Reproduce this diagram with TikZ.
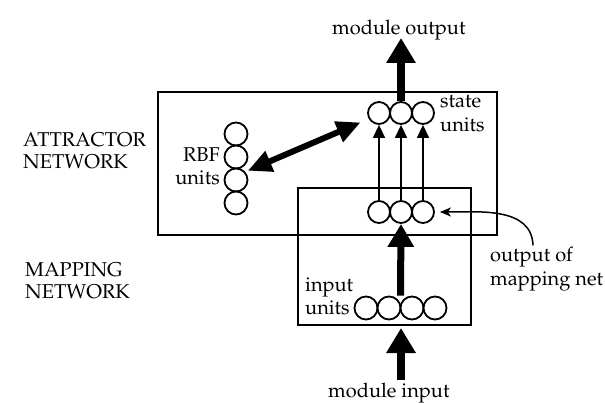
\documentclass[tikz,border=0pt]{standalone}
\usepackage[T1]{fontenc}
\renewcommand{\rmdefault}{ppl}
\usetikzlibrary{arrows.meta,calc}
\begin{document}
\begin{tikzpicture}[x=1pt,y=-1pt,
  unit/.style={circle,draw,fill=white,line width=1.8pt,minimum size=22pt,inner sep=0pt},
  lbl/.style={font=\fontsize{20}{24}\selectfont,inner sep=0pt},
  netbox/.style={draw,line width=1.8pt,inner sep=0pt,anchor=north west},
  bigarrow/.style={line width=7.5pt,-{Triangle[length=25pt,width=28pt]}},
  midarrow/.style={line width=7pt,-{Triangle[length=23pt,width=25pt]}},
  dblarrow/.style={line width=6pt,{Triangle[length=24pt,width=21pt]}-{Triangle[length=24pt,width=21pt]}},
  thinarrow/.style={line width=1.5pt,-{Triangle[length=13pt,width=12pt]}},
  curvearrow/.style={line width=1.5pt,-{Stealth[length=11pt,width=9pt,inset=3pt]}}]
\fill[white] (0,0) rectangle (605,403);
\useasboundingbox (0,0) rectangle (605,403);

% boxes
\node[netbox,minimum width=339pt,minimum height=143pt] (attr) at (157,91) {};
\node[netbox,minimum width=173pt,minimum height=137pt] (map) at (297,187) {};

% state units
\node[unit] (s1) at (379,113) {};
\node[unit] (s2) at (401,113) {};
\node[unit] (s3) at (423,113) {};
% output of mapping net
\node[unit] (m1) at (379,212) {};
\node[unit] (m2) at (401,212) {};
\node[unit] (m3) at (423,212) {};
% input units
\node[unit,minimum size=23pt] (i1) at (366,308) {};
\node[unit,minimum size=23pt] (i2) at (389,308) {};
\node[unit,minimum size=23pt] (i3) at (412,308) {};
\node[unit,minimum size=23pt] (i4) at (435,308) {};
% RBF units
\node[unit,minimum size=23pt] (r1) at (236,134) {};
\node[unit,minimum size=23pt] (r2) at (236,157) {};
\node[unit,minimum size=23pt] (r3) at (236,180) {};
\node[unit,minimum size=23pt] (r4) at (236,203) {};

% labels
\node[lbl,anchor=base west] (outlbl) at (332,35) {module output};
\node[lbl,anchor=base west] (inlbl) at (328,397) {module input};
\node[lbl,anchor=base west] (st1) at (440,108) {state};
\node[lbl,anchor=base west] (st2) at (440,132) {units};
\node[lbl,anchor=base east] (rb1) at (220,162) {RBF};
\node[lbl,anchor=base east] (rb2) at (220,185) {units};
\node[lbl,anchor=base west] (at1) at (23,147) {ATTRACTOR};
\node[lbl,anchor=base west] (at2) at (23,169) {NETWORK};
\node[lbl,anchor=base west] (mp1) at (25,277) {MAPPING};
\node[lbl,anchor=base west] (mp2) at (25,299) {NETWORK};
\node[lbl,anchor=base west] (in1) at (305,292) {input};
\node[lbl,anchor=base west] (in2) at (305,315) {units};
\node[lbl,anchor=base west] (om1) at (490,262) {output of};
\node[lbl,anchor=base west] (om2) at (490,286) {mapping net};

% connectors
\coordinate (outtip) at (401,38);
\coordinate (intip) at (401,328);
\coordinate (injoin) at ($(i2.north)!.5!(i3.north)$);
\coordinate (curvestart) at ($(om1.north west)+(43,-2)$);

\draw[bigarrow] (s2.north) -- (outtip);
\draw[bigarrow] (inlbl.north -| intip) ++(0,-2) -- (intip);
\draw[midarrow] (injoin) -- (m2.south);
\draw[thinarrow] (m1.north) -- (s1.south);
\draw[thinarrow] (m2.north) -- (s2.south);
\draw[thinarrow] (m3.north) -- (s3.south);
\draw[dblarrow] ([shift={(3,5)}]r2.south east) -- ([shift={(-10,1)}]s1.south west);
\draw[curvearrow] (curvestart) to[out=92,in=0] ([xshift=5pt]m3.east);
\end{tikzpicture}
\end{document}
